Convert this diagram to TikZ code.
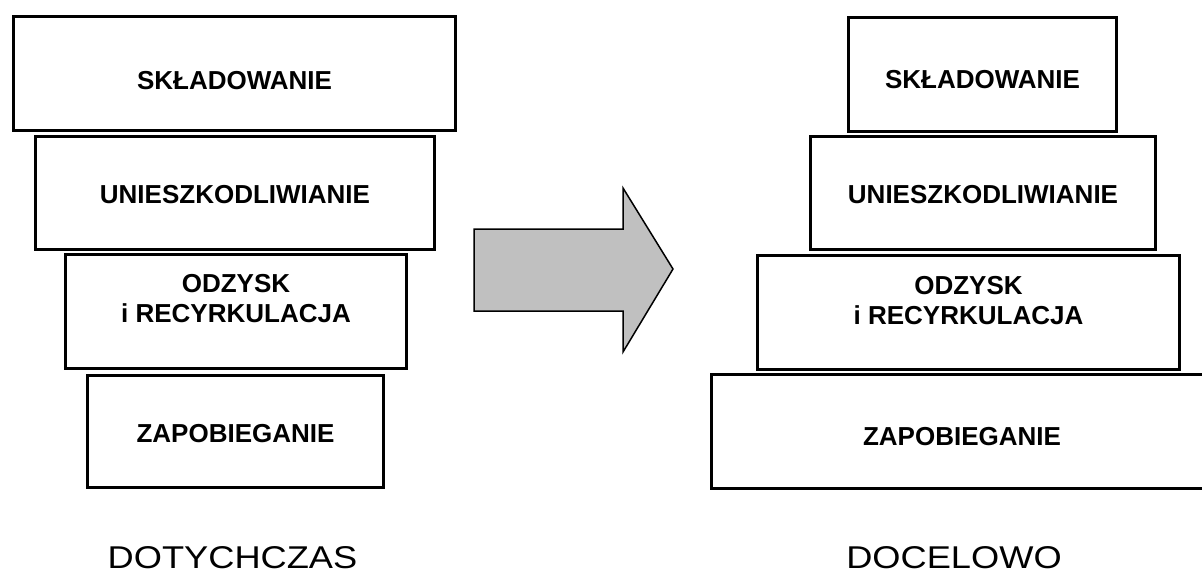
\documentclass[tikz,border=0pt]{standalone}
\usepackage{fontspec}
\setmainfont{Liberation Sans}
\newfontfamily\widefont[FakeStretch=1.15]{Liberation Sans}
\usepackage{xcolor}
\usepackage{tikz}
\usetikzlibrary{positioning}
\definecolor{arrowgray}{HTML}{C0C0C0}

\begin{document}
\begin{tikzpicture}[
            x=1pt, y=-1pt,
            level/.style={rectangle, draw, line width=3pt, inner sep=0pt},
            lbl/.style={font=\fontsize{26}{30}\selectfont\bfseries, align=center, inner sep=0pt},
            caption/.style={font=\widefont\fontsize{31.5}{36}\selectfont, inner sep=0pt, anchor=base},
            bigarrow/.style={draw, line width=1.5pt, fill=arrowgray, line join=miter}
        ]

        \useasboundingbox (0,0) rectangle (1202,574);

        % Levels before (manual layout to match figure)
        \node[level, minimum width=442pt, minimum height=114pt] (L1) at (234.5, 73.5) {};
        \node[level, minimum width=399pt, minimum height=113pt] (L2) at (235, 193) {};
        \node[level, minimum width=341pt, minimum height=114pt] (L3) at (236, 311.5) {};
        \node[level, minimum width=296pt, minimum height=112pt] (L4) at (235.5, 431.5) {};

        \node[lbl, anchor=base] at (234.5, 89) {SKŁADOWANIE};
        \node[lbl, anchor=base] at (235, 203) {UNIESZKODLIWIANIE};
        \node[lbl, anchor=north] at (236, 274) {ODZYSK\\i RECYRKULACJA};
        \node[lbl, anchor=base] at (235.5, 442) {ZAPOBIEGANIE};

        % Levels after
        \node[level, minimum width=268pt, minimum height=114pt] (R1) at (982.5, 74.5) {};
        \node[level, minimum width=345pt, minimum height=113pt] (R2) at (983, 193) {};
        \node[level, minimum width=422pt, minimum height=114pt] (R3) at (968.5, 312.5) {};
        \node[level, minimum width=510pt, minimum height=114pt] (R4) at (966.5, 431.5) {};

        \node[lbl, anchor=base] at (982.5, 88) {SKŁADOWANIE};
        \node[lbl, anchor=base] at (983, 203) {UNIESZKODLIWIANIE};
        \node[lbl, anchor=north] at (968.5, 276) {ODZYSK\\i RECYRKULACJA};
        \node[lbl, anchor=base] at (962, 445) {ZAPOBIEGANIE};

        % Captions
        \node[caption] (before) at (232.5, 568) {DOTYCHCZAS};
        \node[caption] (after) at (954, 568) {DOCELOWO};

        % Arrow
        \draw[bigarrow] (474, 229) -- (623, 229) -- (623, 188) -- (673, 269)
            -- (623, 352) -- (623, 311) -- (474, 311) -- cycle;

    \end{tikzpicture}
\end{document}
